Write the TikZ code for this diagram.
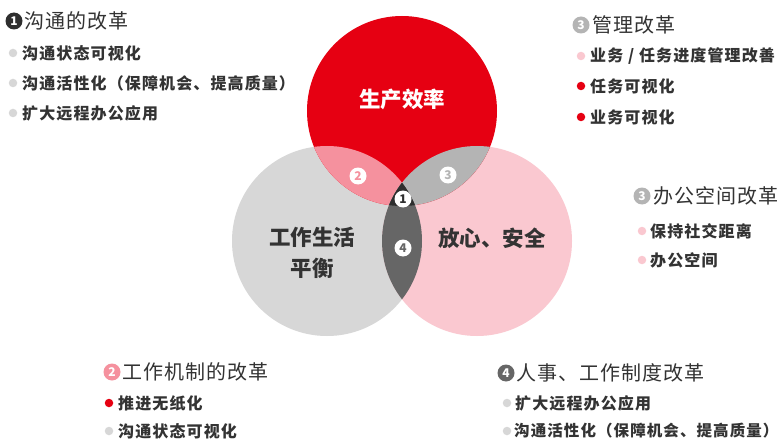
\documentclass[tikz,border=0pt]{standalone}
\usepackage{fontspec}
\newfontfamily\cjk{Noto Sans CJK SC}
\newfontfamily\cjkitem{Noto Sans CJK SC}[LetterSpace=7]
\newfontfamily\cjkhead{Noto Sans CJK SC}[LetterSpace=5]
\definecolor{vred}{HTML}{E60012}
\definecolor{vgray}{HTML}{D7D7D7}
\definecolor{vpink}{HTML}{FAC8D0}
\definecolor{vrg}{HTML}{F5919E}
\definecolor{vrp}{HTML}{B4B4B4}
\definecolor{vgp}{HTML}{666666}
\definecolor{vall}{HTML}{2E2E2E}
\definecolor{txt}{HTML}{333333}
\tikzset{
  headtxt/.style={anchor=west,inner sep=0pt,text=txt,font=\cjkhead\fontsize{20}{20}\selectfont},
  itemtxt/.style={anchor=west,inner sep=0pt,text=txt,font=\cjkitem\bfseries\fontsize{16}{16}\selectfont},
  bul/.style={circle,inner sep=0pt,minimum size=8.5pt,fill=#1},
  hbadge/.style={circle,inner sep=0pt,minimum size=17pt,fill=#1,text=white,font=\cjk\bfseries\fontsize{12}{12}\selectfont},
  vbadge/.style={circle,inner sep=0pt,minimum size=17pt,fill=white,text=#1,font=\cjk\bfseries\fontsize{12}{12}\selectfont},
  biglabel/.style={inner sep=0pt,align=center,font=\cjk\bfseries\fontsize{21.5}{31}\selectfont},
}
\begin{document}
\begin{tikzpicture}[x=1pt,y=-1pt]
\useasboundingbox (0,0) rectangle (779,441);
\fill[white] (0,0) rectangle (779,441);
% Venn circles
\coordinate (R) at (402,111);
\coordinate (G) at (327,241);
\coordinate (P) at (477,241);
\fill[vgray] (G) circle[radius=95];
\fill[vpink] (P) circle[radius=95];
\fill[vred] (R) circle[radius=95];
\begin{scope}
  \clip (R) circle[radius=95];
  \fill[vrg] (G) circle[radius=95];
  \fill[vrp] (P) circle[radius=95];
\end{scope}
\begin{scope}
  \clip (G) circle[radius=95];
  \fill[vgp] (P) circle[radius=95];
  \clip (P) circle[radius=95];
  \fill[vall] (R) circle[radius=95];
\end{scope}
% labels inside circles
\node[biglabel,text=white] (lr) at (402,99) {生产效率};
\node[biglabel,text=txt] (lg) at (312,253) {工作生活\\平衡};
\node[biglabel,text=txt] (lp) at (492,238) {放心、安全};
\node[vbadge=vrg] (b2) at (358,176) {2};
\node[vbadge=vrp] (b3) at (448,175) {3};
\node[vbadge=vall] (b1) at (403,199) {1};
\node[vbadge=vgp] (b4) at (403,248) {4};
% top-left block
\node[hbadge=vall] (h1) at (14,21) {1};
\node[headtxt] (h1t) at (24,21) {沟通的改革};
\node[bul=vgray] (a1) at (13,53) {};
\node[itemtxt] (a1t) at (22,53) {沟通状态可视化};
\node[bul=vgray] (a2) at (13,83) {};
\node[itemtxt] (a2t) at (22,83) {沟通活性化（保障机会、提高质量）};
\node[bul=vgray] (a3) at (13,113) {};
\node[itemtxt] (a3t) at (22,113) {扩大远程办公应用};
% top-right block
\node[hbadge=vrp] (h3) at (581,25) {3};
\node[headtxt] (h3t) at (592,25) {管理改革};
\node[bul=vpink] (c1) at (581,56) {};
\node[itemtxt] (c1t) at (590,56) {业务 / 任务进度管理改善};
\node[bul=vred] (c2) at (581,86) {};
\node[itemtxt] (c2t) at (590,86) {任务可视化};
\node[bul=vred] (c3) at (581,117) {};
\node[itemtxt] (c3t) at (590,117) {业务可视化};
% middle-right block
\node[hbadge=vrp] (h5) at (642,196) {3};
\node[headtxt] (h5t) at (653,196) {办公空间改革};
\node[bul=vpink] (d1) at (642,231) {};
\node[itemtxt] (d1t) at (650,231) {保持社交距离};
\node[bul=vpink] (d2) at (642,260) {};
\node[itemtxt] (d2t) at (650,260) {办公空间};
% bottom-left block
\node[hbadge=vrg] (h2) at (112,372) {2};
\node[headtxt] (h2t) at (122,372) {工作机制的改革};
\node[bul=vred] (e1) at (109,403) {};
\node[itemtxt] (e1t) at (118,403) {推进无纸化};
\node[bul=vgray] (e2) at (109,431) {};
\node[itemtxt] (e2t) at (118,431) {沟通状态可视化};
% bottom-right block
\node[hbadge=vgp] (h4) at (506,373) {4};
\node[headtxt] (h4t) at (516,373) {人事、工作制度改革};
\node[bul=vgray] (f1) at (507,403) {};
\node[itemtxt] (f1t) at (515,403) {扩大远程办公应用};
\node[bul=vgray] (f2) at (507,431) {};
\node[itemtxt,font=\cjkitem\bfseries\fontsize{15.5}{16}\selectfont] (f2t) at (514,431) {沟通活性化（保障机会、提高质量）};
\end{tikzpicture}
\end{document}
